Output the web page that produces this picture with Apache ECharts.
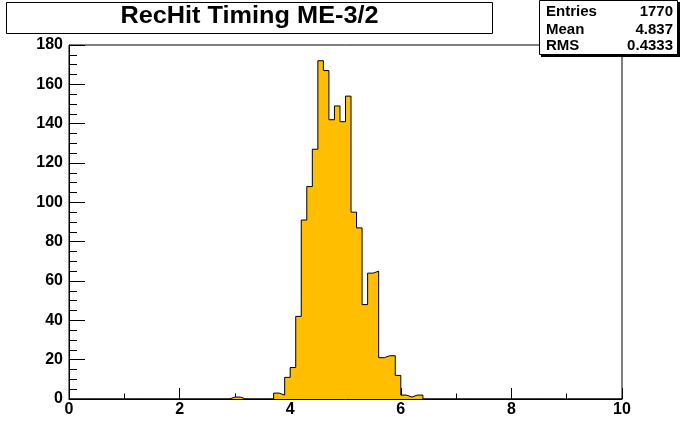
<!DOCTYPE html>
<html>
<head>
<meta charset="utf-8">
<script src="https://cdn.jsdelivr.net/npm/echarts@6/dist/echarts.min.js"></script>
<style>html,body{margin:0;padding:0;background:#fff;}#c{width:692px;height:444px;}</style>
</head>
<body>
<div id="c"></div>
<script>
// Histogram: 100 bins over [0,10], width 0.1
var xMin = 0;
var binWidth = 0.1;
var nBins = 100;
// counts for bins starting at 2.9 (bins before/after are empty)
var firstBinLow = 2.9;
var counts = [1, 1, 0, 0, 0, 0, 0, 0, 3, 2, 11, 16, 42, 91, 108, 127, 172, 167, 142, 149, 141, 154, 95, 87, 48, 64, 65, 21, 22, 22, 12, 2, 1, 2, 2];
var xTicks = [0, 2, 4, 6, 8, 10];
var yTicks = [0, 20, 40, 60, 80, 100, 120, 140, 160, 180];
var titleText = 'RecHit Timing ME-3/2';
var statNames = ['Entries', 'Mean', 'RMS'];
var statValues = ['1770', '4.837', '0.4333'];

// Build full bin contents and the step outline
var firstIdx = Math.round((firstBinLow - xMin) / binWidth);
var binValues = [];
for (var i = 0; i < nBins; i++) {
  var j = i - firstIdx;
  binValues.push(j >= 0 && j < counts.length ? counts[j] : 0);
}
var pts = [[xMin, 0]];
for (var i = 0; i < nBins; i++) {
  var lo = +(xMin + i * binWidth).toFixed(4);
  var hi = +(xMin + (i + 1) * binWidth).toFixed(4);
  pts.push([lo, binValues[i]]);
  pts.push([hi, binValues[i]]);
}
pts.push([xMin + nBins * binWidth, 0]);

var FONT = 'Liberation Sans';
var statFont = 'bold 15px "Liberation Sans"';
var chart = echarts.init(document.getElementById('c'), null, {renderer: 'canvas'});
chart.setOption({
  animation: false,
  backgroundColor: '#fff',
  grid: {left: 69, right: 70, top: 45, bottom: 45, show: true, borderColor: '#000', borderWidth: 1, backgroundColor: 'transparent'},
  xAxis: {
    type: 'value', min: xTicks[0], max: xTicks[xTicks.length - 1], interval: 2,
    axisLine: {show: true, onZero: false, lineStyle: {color: '#000', width: 1}},
    axisTick: {show: true, inside: true, length: 11, lineStyle: {color: '#000'}},
    minorTick: {show: true, splitNumber: 2, length: 5.5, lineStyle: {color: '#000'}},
    splitLine: {show: false},
    axisLabel: {color: '#000', fontFamily: FONT, fontWeight: 'bold', fontSize: 16, margin: 3,
      formatter: function (v) { return String(v); }}
  },
  yAxis: {
    type: 'value', min: yTicks[0], max: yTicks[yTicks.length - 1], interval: 20,
    axisLine: {show: true, onZero: false, lineStyle: {color: '#000', width: 1}},
    axisTick: {show: true, inside: true, length: 16, lineStyle: {color: '#000'}},
    minorTick: {show: true, splitNumber: 4, length: 8, lineStyle: {color: '#000'}},
    splitLine: {show: false},
    axisLabel: {color: '#000', fontFamily: FONT, fontWeight: 'bold', fontSize: 16, margin: 6}
  },
  series: [{
    type: 'line',
    data: pts,
    showSymbol: false,
    symbol: 'none',
    lineStyle: {color: '#000', width: 1},
    areaStyle: {color: '#ffbe00', opacity: 1},
    silent: true,
    z: 1
  }],
  graphic: [
    {type: 'rect', z: 100, shape: {x: 6.5, y: 2.5, width: 486, height: 31}, style: {fill: '#fff', stroke: '#000', lineWidth: 1}},
    {type: 'text', z: 101, x: 249.5, y: 16.5, scaleX: 1.1, originX: 0, originY: 0,
      style: {text: titleText, fill: '#000', font: 'bold 23px "Liberation Sans"', align: 'center', verticalAlign: 'middle'}},
    {type: 'rect', z: 100, shape: {x: 541, y: 2, width: 139, height: 55}, style: {fill: '#000'}},
    {type: 'rect', z: 101, shape: {x: 539.5, y: 0.5, width: 138, height: 54}, style: {fill: '#fff', stroke: '#000', lineWidth: 1}},
    {type: 'text', z: 102, x: 546, y: 12, style: {text: statNames[0], fill: '#000', font: statFont, align: 'left', verticalAlign: 'middle'}},
    {type: 'text', z: 102, x: 546, y: 29.5, style: {text: statNames[1], fill: '#000', font: statFont, align: 'left', verticalAlign: 'middle'}},
    {type: 'text', z: 102, x: 546, y: 46, style: {text: statNames[2], fill: '#000', font: statFont, align: 'left', verticalAlign: 'middle'}},
    {type: 'text', z: 102, x: 673, y: 12, style: {text: statValues[0], fill: '#000', font: statFont, align: 'right', verticalAlign: 'middle'}},
    {type: 'text', z: 102, x: 673, y: 29.5, style: {text: statValues[1], fill: '#000', font: statFont, align: 'right', verticalAlign: 'middle'}},
    {type: 'text', z: 102, x: 673, y: 46, style: {text: statValues[2], fill: '#000', font: statFont, align: 'right', verticalAlign: 'middle'}}
  ]
});
</script>
</body>
</html>
